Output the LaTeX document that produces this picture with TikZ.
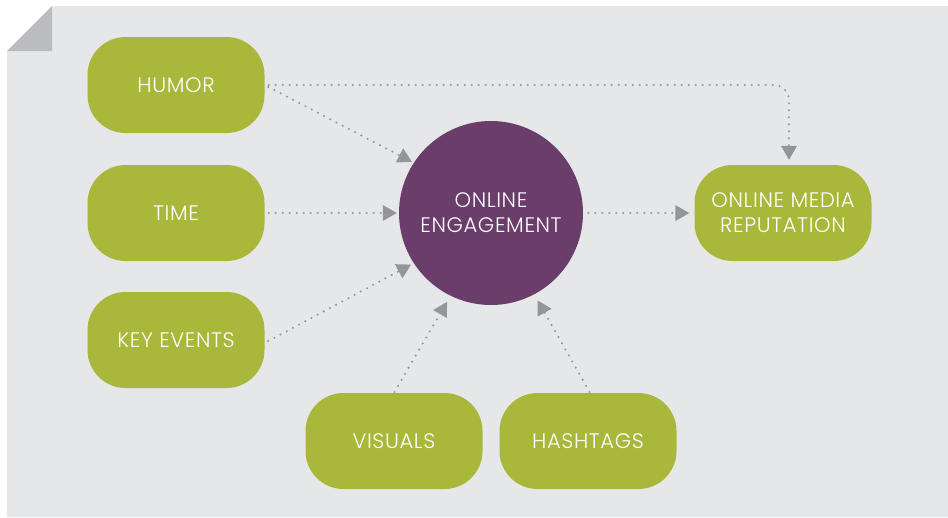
\documentclass[tikz,border=0pt]{standalone}
\usepackage{fontspec}
\setmainfont{Poppins}[UprightFont=* Light, LetterSpace=3]
\usetikzlibrary{arrows.meta}
\definecolor{bgc}{HTML}{E6E7E8}
\definecolor{cornerc}{HTML}{BBBCBF}
\definecolor{greenc}{HTML}{A9B83A}
\definecolor{purplec}{HTML}{6B3D6B}
\definecolor{arrowc}{HTML}{939598}
\tikzset{
  gbox/.style={rectangle, rounded corners=38pt, fill=greenc, minimum width=177pt, minimum height=96pt,
    text=white, font=\fontsize{21}{25}\selectfont, align=center, inner sep=0pt},
  ebox/.style={circle, fill=purplec, minimum size=184pt, text=white,
    font=\fontsize{21}{25}\selectfont, align=center, inner sep=0pt},
  conn/.style={draw=arrowc, line width=2.3pt, line cap=round, dash pattern=on 0pt off 7pt,
    -{Triangle[length=14pt,width=16pt,fill=arrowc,line width=0pt]}},
}
\begin{document}
\begin{tikzpicture}[x=1pt,y=-1pt]
\useasboundingbox (0,0) rectangle (948,517);
\fill[white] (0,0) rectangle (948,517);
\fill[bgc] (52,6) -- (948,6) -- (948,517) -- (7,517) -- (7,51) -- cycle;
\fill[cornerc] (7,51) -- (52,6) -- (52,51) -- cycle;

\node[gbox] (humor) at (176,85) {HUMOR};
\node[gbox] (time) at (176,213) {TIME};
\node[gbox] (key) at (176,340) {KEY EVENTS};
\node[gbox] (vis) at (394,441) {VISUALS};
\node[gbox] (hash) at (588,441) {HASHTAGS};
\node[gbox] (rep) at (783,213) {ONLINE MEDIA\\REPUTATION};
\node[ebox] (eng) at (491,213) {ONLINE\\ENGAGEMENT};

\coordinate (repin) at ([xshift=6pt]rep.north);

\draw[conn, shorten <=4pt, shorten >=2pt] (humor.east) -- (eng.147);
\draw[conn, shorten <=4pt, shorten >=2pt] (time.east) -- (eng.west);
\draw[conn, shorten <=4pt, shorten >=3pt] ([yshift=-3pt]key.east) -- (eng.213);
\draw[conn, shorten <=1pt, shorten >=7pt] (vis.north) -- (eng.244);
\draw[conn, shorten <=1pt, shorten >=7pt] ([xshift=2pt]hash.north) -- (eng.298);
\draw[conn, shorten <=5pt, shorten >=5pt] (eng.east) -- (rep.west);
\draw[conn, rounded corners=15pt, shorten <=4pt, shorten >=5pt] (humor.east) -- (humor.east -| repin) -- (repin);
\end{tikzpicture}
\end{document}
